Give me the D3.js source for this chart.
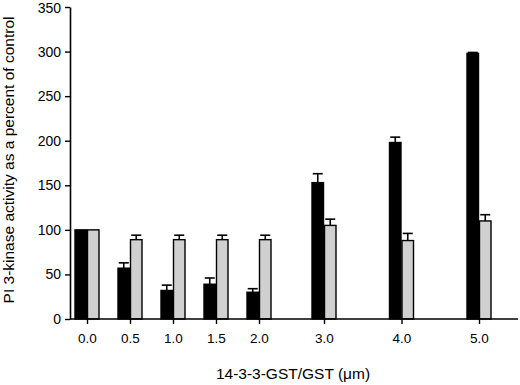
<!DOCTYPE html>
<html><head><meta charset="utf-8">
<script src="https://cdn.jsdelivr.net/npm/d3@7"></script>
<style>body{margin:0;background:#fff}svg{display:block}text{font-family:"Liberation Sans",Arial,sans-serif;fill:#000}</style>
</head><body><svg id="c" width="520" height="385"></svg>
<script>
const concentrations = [0.0, 0.5, 1.0, 1.5, 2.0, 3.0, 4.0, 5.0];
const gstFusion = [100, 57, 32, 39, 30, 153, 198, 298];
const gstFusionErr = [0, 6, 6, 7, 4, 10, 6, 1];
const gstControl = [100, 89, 89, 89, 89, 105, 88, 110];
const gstControlErr = [0, 5, 5, 5, 5, 7, 8, 7];
const yTicks = [0, 50, 100, 150, 200, 250, 300, 350];

const svg = d3.select("#c");
const mLeft = 70, mRight = 518, mTop = 7, mBottom = 319;
const y = d3.scaleLinear().domain([0, 350]).range([mBottom, mTop]);
const x = d3.scaleLinear().domain([0, 2, 3, 5]).range([87, 259, 324, 479]);
const bw = 12.5;

const series = [
  {vals: gstFusion, errs: gstFusionErr, fill: "#000", off: -bw},
  {vals: gstControl, errs: gstControlErr, fill: "#d0d0d0", off: 0}
];

// error bars
series.forEach(s => {
  const g = svg.append("g");
  concentrations.forEach((c, i) => {
    if (s.errs[i] <= 0) return;
    const cx = x(c) + s.off + bw / 2;
    g.append("line").attr("x1", cx).attr("x2", cx).attr("y1", y(s.vals[i])).attr("y2", y(s.vals[i] + s.errs[i]))
      .attr("stroke", "#000").attr("stroke-width", 1.6);
    g.append("line").attr("x1", cx - 5).attr("x2", cx + 5).attr("y1", y(s.vals[i] + s.errs[i])).attr("y2", y(s.vals[i] + s.errs[i]))
      .attr("stroke", "#000").attr("stroke-width", 1.6);
  });
});

// bars
series.forEach(s => {
  svg.append("g").selectAll("rect").data(concentrations).join("rect")
    .attr("x", (c) => x(c) + s.off + 0.5)
    .attr("width", bw - 1)
    .attr("y", (c, i) => y(s.vals[i]))
    .attr("height", (c, i) => y(0) - y(s.vals[i]))
    .attr("fill", s.fill).attr("stroke", "#000").attr("stroke-width", 1.4);
});

// y axis
const ya = svg.append("g").attr("transform", `translate(${mLeft},0)`)
  .call(d3.axisLeft(y).tickValues(yTicks).tickSize(5).tickSizeOuter(0).tickPadding(4));
ya.select(".domain").attr("stroke-width", 1.6);
ya.selectAll("line").attr("stroke-width", 1.4);
ya.selectAll("text").attr("font-size", 14).attr("font-family", '"Liberation Sans",Arial,sans-serif')
  .attr("dy", d => d === 350 ? "0.42em" : "0.32em");

// x axis
const xa = svg.append("g").attr("transform", `translate(0,${mBottom})`)
  .call(d3.axisBottom(x).tickValues(concentrations).tickFormat(d3.format(".1f")).tickSize(5).tickSizeOuter(0).tickPadding(9));
xa.select(".domain").attr("d", `M${mLeft},0H${mRight}`).attr("stroke-width", 1.6);
xa.selectAll("line").attr("stroke-width", 1.4);
xa.selectAll("text").attr("font-size", 13.5).attr("font-family", '"Liberation Sans",Arial,sans-serif');

svg.append("text").attr("x", 293).attr("y", 379).attr("text-anchor", "middle").attr("font-size", 15.5)
  .text("14-3-3-GST/GST (\u03bcm)");
svg.append("text").attr("transform", "translate(14,160) rotate(-90)").attr("text-anchor", "middle").attr("font-size", 15.5)
  .text("PI 3-kinase activity as a percent of control");
</script></body></html>
